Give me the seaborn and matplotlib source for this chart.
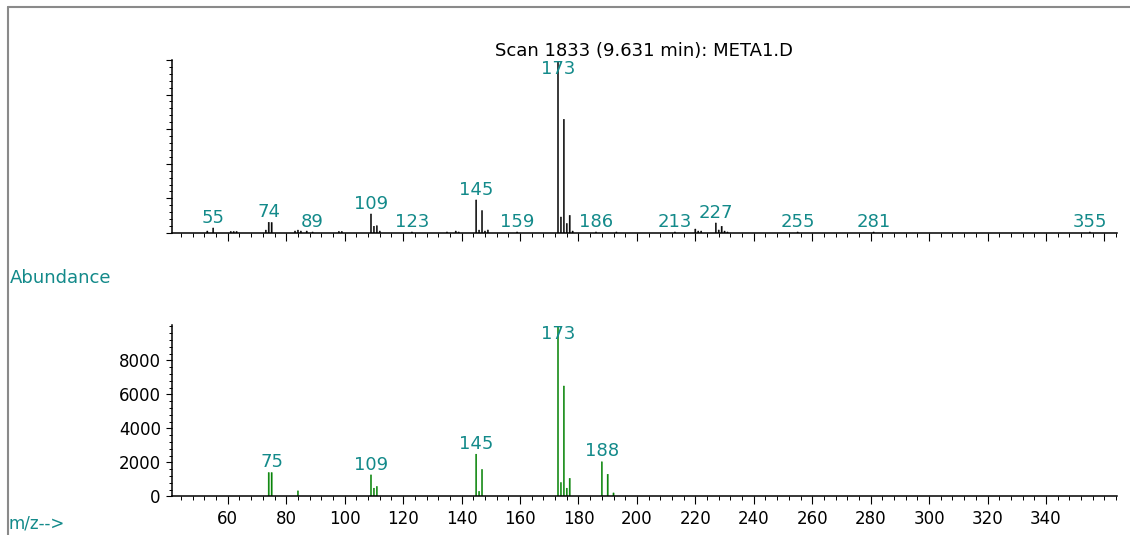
import numpy as np
import pandas as pd
import seaborn as sns
import matplotlib.pyplot as plt
from matplotlib.ticker import MultipleLocator
from matplotlib.lines import Line2D

scan_mz = [53, 55, 61, 62, 63, 73, 74, 75, 83, 84, 85, 87, 89, 98, 99,
           109, 110, 111, 112, 123, 135, 138, 139, 145, 146, 147, 148, 149,
           159, 173, 174, 175, 176, 177, 178, 186, 193, 213, 220, 221, 222,
           227, 228, 229, 230, 231, 255, 281, 355]
scan_abund = [115, 290, 90, 90, 90, 170, 620, 610, 115, 170, 115, 115, 60, 90, 90,
              1100, 390, 420, 115, 60, 60, 115, 60, 1910, 170, 1295, 115, 175,
              60, 9870, 925, 6570, 550, 1020, 115, 60, 60, 60, 230, 115, 115,
              580, 175, 390, 115, 60, 60, 60, 60]
scan_labels = [55, 74, 89, 109, 123, 145, 159, 173, 186, 213, 227, 255, 281, 355]

# library spectrum (bottom)
lib_mz = [74, 75, 84, 109, 110, 111, 145, 146, 147, 173, 174, 175, 176, 177, 188, 190, 192]
lib_abund = [1410, 1410, 330, 1270, 490, 590, 2490, 300, 1590, 9999, 820, 6500, 490, 1070, 2040, 1310, 210]
lib_labels = [75, 109, 145, 173, 188]

x_ticks = list(range(60, 341, 20))
y_ticks = [0, 2000, 4000, 6000, 8000]
title = "Scan 1833 (9.631 min): META1.D"

sns.set_style("ticks")
plt.rcParams["font.family"] = ["DejaVu Sans"]
plt.rcParams["text.color"] = "black"
plt.rcParams["xtick.color"] = "black"
plt.rcParams["ytick.color"] = "black"
plt.rcParams["axes.edgecolor"] = "black"

teal = "#138a8a"

fig = plt.figure(figsize=(11.3, 5.35), dpi=100)
ax1 = fig.add_axes([0.1522, 0.5645, 0.8363, 0.3234])
ax2 = fig.add_axes([0.1522, 0.0720, 0.8363, 0.3206])


def draw(ax, mz, abund, labels, color, ymax):
    df = pd.DataFrame({"mz": mz, "abundance": abund})
    sns.barplot(data=df, x="mz", y="abundance", native_scale=True, orient="x",
                width=0.4, color=color, saturation=1, linewidth=0.3,
                edgecolor=color, errorbar=None, ax=ax)
    for p in ax.patches:
        p.set_snap(False)
    ax.set_xlim(40.9, 364.3)
    ax.set_ylim(0, ymax)
    ax.set_xlabel("")
    ax.set_ylabel("")
    ax.xaxis.set_major_locator(MultipleLocator(20))
    ax.xaxis.set_minor_locator(MultipleLocator(4))
    ax.yaxis.set_major_locator(MultipleLocator(2000))
    ax.yaxis.set_minor_locator(MultipleLocator(400))
    ax.tick_params(axis="x", which="major", length=6, width=0.8, labelsize=12)
    ax.tick_params(axis="x", which="minor", length=3, width=0.7)
    ax.tick_params(axis="y", which="major", length=4.5, width=0.8, labelsize=12)
    ax.tick_params(axis="y", which="minor", length=2.2, width=0.7)
    sns.despine(ax=ax)
    for s in ["left", "bottom"]:
        ax.spines[s].set_linewidth(1.1)
    for m in labels:
        h = df.loc[df.mz == m, "abundance"].iloc[0]
        if h > 0.9 * ymax:
            ax.text(m, ymax, str(m), ha="center", va="top", color=teal, fontsize=13)
        else:
            ax.annotate(str(m), (m, h), xytext=(0, 1), textcoords="offset points",
                        ha="center", va="bottom", color=teal, fontsize=13)


draw(ax1, scan_mz, scan_abund, scan_labels, "black", 10000)
ax1.tick_params(labelbottom=False, labelleft=False)
ax1.set_title(title, fontsize=13, pad=1, color="black")

draw(ax2, lib_mz, lib_abund, lib_labels, "#008000", 10090)
ax2.set_xticks(x_ticks)
ax2.set_yticks(y_ticks)
ax2.set_yticklabels([str(v) for v in y_ticks])

fig.text(10 / 1130, 1 - 278 / 535, "Abundance", color=teal, fontsize=13, ha="left", va="center")
fig.text(8 / 1130, 2 / 535, "m/z-->", color=teal, fontsize=12, ha="left", va="bottom")

# outer frame (top and left edges)
fig.add_artist(Line2D([8 / 1130, 1], [1 - 7 / 535] * 2, transform=fig.transFigure,
                      color="#8a8a8a", lw=1.5))
fig.add_artist(Line2D([8 / 1130] * 2, [0, 1 - 7 / 535], transform=fig.transFigure,
                      color="#8a8a8a", lw=1.5))

fig.savefig("out.png", dpi=100)
